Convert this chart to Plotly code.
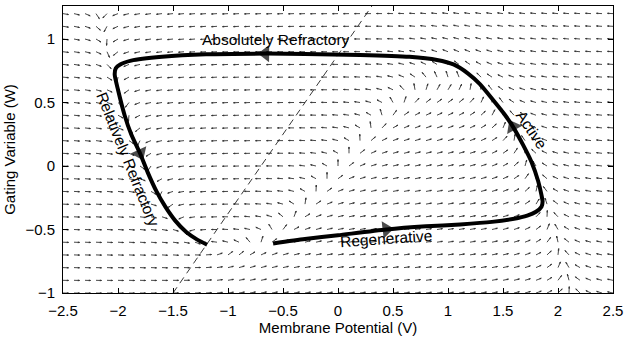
import numpy as np
import plotly.graph_objects as go

# ---- FitzHugh-Nagumo model (defines the direction field) ----
A_PARAM = 0.7
B_PARAM = 0.8
EPS = 0.08
I_EXT = 0.0

# direction-field grid
v_grid = np.round(np.arange(-2.5, 2.5001, 0.1), 3)
w_grid = np.round(np.arange(-1.0, 1.2001, 0.1), 3)

# trajectory (membrane potential v, gating variable w)
traj_v = [-0.59, -0.30, 0.00, 0.44, 0.80, 1.11, 1.40, 1.60, 1.72, 1.80, 1.85, 1.86, 1.85,
          1.82, 1.76, 1.68, 1.59, 1.52, 1.41, 1.29, 1.18, 1.05, 0.90, 0.65, 0.20, -0.30,
          -0.66, -1.20, -1.60, -1.88, -1.98, -2.02, -2.03, -2.00, -1.94, -1.88, -1.80,
          -1.73, -1.65, -1.57, -1.48, -1.38, -1.28, -1.19]
traj_w = [-0.61, -0.575, -0.545, -0.50, -0.475, -0.46, -0.44, -0.415, -0.39, -0.36, -0.32,
          -0.28, -0.23, -0.12, 0.03, 0.17, 0.31, 0.40, 0.52, 0.645, 0.73, 0.80, 0.835, 0.86,
          0.875, 0.882, 0.885, 0.88, 0.86, 0.83, 0.80, 0.77, 0.72, 0.60, 0.40, 0.25, 0.10,
          -0.05, -0.20, -0.32, -0.43, -0.52, -0.58, -0.62]
# indices of trajectory points carrying direction arrowheads
arrow_idx = [3, 16, 26, 36]

labels = ["Absolutely Refractory", "Relatively Refractory", "Active", "Regenerative"]
label_v = [-0.56, -1.91, 1.76, 0.44]
label_w = [0.995, 0.05, 0.29, -0.57]
label_angle = [0, 68, 56, -4]

x_ticks = [-2.5, -2, -1.5, -1, -0.5, 0, 0.5, 1, 1.5, 2, 2.5]
y_ticks = [-1, -0.5, 0, 0.5, 1]


def fmt(t):
    s = ("%g" % t)
    return s.replace("-", "\u2212")


# ---- build quiver segments ----
L = 0.05
alpha, beta = 0.3, 0.22
qx, qy = [], []
for w in w_grid:
    for v in v_grid:
        dv = v - v ** 3 / 3 - w + I_EXT
        dw = EPS * (v + A_PARAM - B_PARAM * w)
        n = np.hypot(dv, dw)
        u, vv = L * dv / n, L * dw / n
        tx, ty = v + u, w + vv
        qx += [v, tx, None]
        qy += [w, ty, None]
        qx += [tx - alpha * (u + beta * vv), tx, tx - alpha * (u - beta * vv), None]
        qy += [ty - alpha * (vv - beta * u), ty, ty - alpha * (vv + beta * u), None]

fig = go.Figure()
fig.add_trace(go.Scatter(x=qx, y=qy, mode="lines",
                         line=dict(color="#333333", width=0.9),
                         hoverinfo="skip", showlegend=False))

# w-nullcline (dashed)
w_lo, w_hi = -1.0, 1.26
nv = [B_PARAM * w_lo - A_PARAM, B_PARAM * w_hi - A_PARAM]
fig.add_trace(go.Scatter(x=nv, y=[w_lo, w_hi], mode="lines",
                         line=dict(color="#222222", width=0.9, dash="7px,5px"),
                         showlegend=False))

# trajectory
fig.add_trace(go.Scatter(x=traj_v, y=traj_w, mode="lines",
                         line=dict(color="black", width=4, shape="spline", smoothing=0.6),
                         showlegend=False))

for i in arrow_idx:
    fig.add_trace(go.Scatter(x=[traj_v[i - 1], traj_v[i]], y=[traj_w[i - 1], traj_w[i]],
                             mode="markers",
                             marker=dict(symbol="triangle-up", size=[0, 15], color="black",
                                         angleref="previous", line=dict(width=0)),
                             showlegend=False))

for t, x, y, a in zip(labels, label_v, label_w, label_angle):
    fig.add_annotation(x=x, y=y, text=t, showarrow=False, textangle=a,
                       font=dict(family="Liberation Sans, Arial", size=15.5, color="black"),
                       bgcolor="rgba(255,255,255,0)")

axis_common = dict(showline=True, linecolor="black", linewidth=1, mirror="ticks",
                   ticks="inside", ticklen=5, tickcolor="black", showgrid=False,
                   zeroline=False, ticklabelstandoff=4,
                   tickfont=dict(family="Liberation Sans, Arial", size=15, color="black"))

fig.update_xaxes(range=[-2.5, 2.5], tickvals=x_ticks, ticktext=[fmt(t) for t in x_ticks],
                 title=dict(text="Membrane Potential (V)", standoff=2,
                            font=dict(family="Liberation Sans, Arial", size=15, color="black")),
                 **axis_common)
fig.update_yaxes(range=[-1, 1.26], tickvals=y_ticks, ticktext=[fmt(t) for t in y_ticks],
                 title=dict(text="Gating Variable (W)", standoff=6,
                            font=dict(family="Liberation Sans, Arial", size=15, color="black")),
                 **axis_common)

fig.update_layout(width=641, height=337, margin=dict(l=63, r=28, t=5, b=42),
                  plot_bgcolor="white", paper_bgcolor="white")

fig.write_html("out.html")
